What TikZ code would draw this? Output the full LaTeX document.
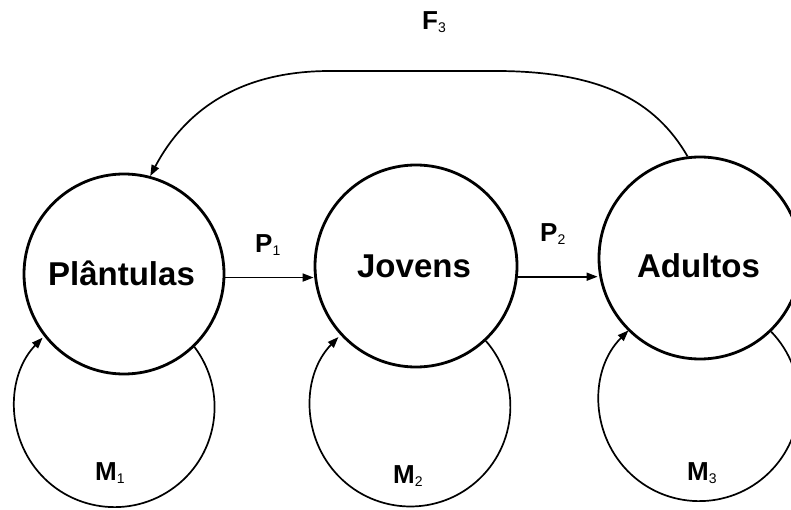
\documentclass[tikz,border=0pt]{standalone}
\usepackage{fontspec}
\setmainfont{Liberation Sans}
\usetikzlibrary{arrows.meta}
\newcommand\ratesub[1]{\raisebox{-3pt}{\fontsize{14}{14}\selectfont\mdseries #1}}
\begin{document}
\begin{tikzpicture}[x=1pt,y=1pt,
  statebox/.style={circle,draw,line width=2.8pt,inner sep=0pt,minimum size=#1},
  statetext/.style={font=\fontsize{33}{38}\selectfont\bfseries,anchor=base,inner sep=0pt},
  rate/.style={font=\fontsize{26}{30}\selectfont\bfseries,anchor=base west,inner sep=0pt},
  flow/.style={line width=1.7pt,-{Triangle[length=11pt,width=8pt]}}]
\useasboundingbox (0,0) rectangle (791,-510);
\clip (0,0) rectangle (791,-510);
% states
\node[statebox=200pt] (pl) at (124,-274) {};
\node[statebox=202pt] (jo) at (416,-266) {};
\node[statebox=202pt] (ad) at (700,-258) {};
\node[statetext] (plt) at (121.5,-285) {Plântulas};
\node[statetext] (jot) at (414,-277) {Jovens};
\node[statetext] (adt) at (698.5,-277) {Adultos};
% transitions
\draw[flow] (pl.-2) -- (pl.-2 -| jo.west);
\draw[flow] (jo.-6) -- (jo.-6 -| ad.west);
\draw[flow] (ad.97) .. controls (655,-100) and (600,-72) .. (500,-71)
  -- (330,-71) .. controls (240,-71) and (185,-110) .. (pl.75);
% self loops
\draw[flow] (pl.-46) arc[start angle=37,end angle=-224,radius=100pt];
\draw[flow] (jo.-47) arc[start angle=41,end angle=-224,radius=100pt];
\draw[flow] (ad.-46) arc[start angle=44,end angle=-225,radius=100pt];
% labels
\node[rate] (p1) at (255,-253) {P\ratesub{1}};
\node[rate] (p2) at (540,-242) {P\ratesub{2}};
\node[rate] (f3) at (422,-30) {F\ratesub{3}};
\node[rate] (m1) at (95,-480) {M\ratesub{1}};
\node[rate] (m2) at (393,-483) {M\ratesub{2}};
\node[rate] (m3) at (687,-480) {M\ratesub{3}};
\end{tikzpicture}
\end{document}
